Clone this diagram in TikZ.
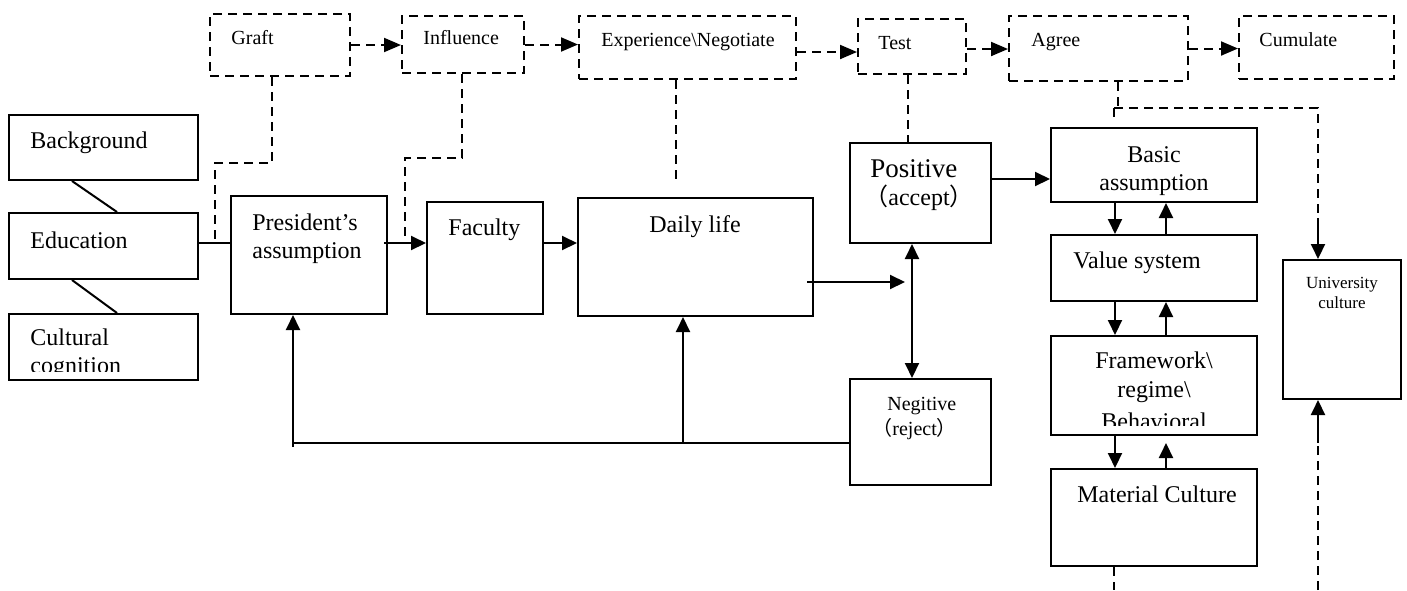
\documentclass[tikz,border=0pt]{standalone}
\usepackage{fontspec}
\setmainfont{Liberation Serif}
\newfontfamily\cjkfont{Noto Sans CJK SC}
\usetikzlibrary{arrows.meta}
\begin{document}
\begin{tikzpicture}[x=0.5pt,y=-0.5pt,
 box/.style={draw, line width=1pt, inner sep=0pt},
 dbox/.style={draw, line width=1pt, inner sep=0pt, dash pattern=on 4.5pt off 3pt},
 ln/.style={line width=1pt},
 dl/.style={line width=1pt, dash pattern=on 4.5pt off 3pt},
 arr/.style={ln, -{Triangle[length=7.5pt,width=7pt]}},
 darr/.style={dl, -{Triangle[length=8.5pt,width=7pt]}},
 txt/.style={inner sep=0pt, font=\fontsize{12}{14}\selectfont},
 btxt/.style={inner sep=0pt, font=\fontsize{13.5}{15}\selectfont},
 stxt/.style={inner sep=0pt, font=\fontsize{10}{12}\selectfont},
 ttxt/.style={inner sep=0pt, font=\fontsize{8.5}{10}\selectfont}]
\useasboundingbox (0,0) rectangle (1407,590);

% solid boxes
\node[box, minimum width=94.5pt, minimum height=32.5pt] (bg) at (103.5,147.5) {};
\node[box, minimum width=94.5pt, minimum height=33pt] (edu) at (103.5,246) {};
\node[box, minimum width=94.5pt, minimum height=33pt] (cog) at (103.5,347) {};
\node[box, minimum width=78pt, minimum height=59pt] (pres) at (309,255) {};
\node[box, minimum width=58pt, minimum height=56pt] (fac) at (485,258) {};
\node[box, minimum width=117.5pt, minimum height=59pt] (daily) at (695.5,257) {};
\node[box, minimum width=70.5pt, minimum height=50pt] (pos) at (920.5,193) {};
\node[box, minimum width=70.5pt, minimum height=53pt] (neg) at (920.5,432) {};
\node[box, minimum width=103pt, minimum height=37pt] (basic) at (1154,165) {};
\node[box, minimum width=103pt, minimum height=33pt] (value) at (1154,268) {};
\node[box, minimum width=103pt, minimum height=49.5pt] (frame) at (1154,385.5) {};
\node[box, minimum width=103pt, minimum height=48.5pt] (mat) at (1154,517.5) {};
\node[box, minimum width=59pt, minimum height=69.5pt] (univ) at (1342,329.5) {};

% dashed boxes
\node[dbox, minimum width=70pt, minimum height=31pt] (graft) at (280,45) {};
\node[dbox, minimum width=61pt, minimum height=28.5pt] (infl) at (463,44.5) {};
\node[dbox, minimum width=108.5pt, minimum height=31.5pt] (exp) at (687.5,47.5) {};
\node[dbox, minimum width=54pt, minimum height=27.5pt] (test) at (912,46.5) {};
\node[dbox, minimum width=89.5pt, minimum height=32.5pt] (agree) at (1098.5,48.5) {};
\node[dbox, minimum width=77.5pt, minimum height=31.5pt] (cum) at (1316.5,47.5) {};

% helper coordinates
\coordinate (yA) at (0,52);
\coordinate (yB) at (0,49);
\coordinate (g1) at (272,163); \coordinate (g2) at (215,163); \coordinate (g3) at (215,243);
\coordinate (i1) at (462,158); \coordinate (i2) at (405,158); \coordinate (i3) at (405,243);
\coordinate (e1) at (676,183);
\coordinate (t1) at (908,0);
\coordinate (a1) at (1118,108); \coordinate (a2) at (1114,108); \coordinate (a3) at (1318,108);
\coordinate (a4) at (1114,123); \coordinate (a5) at (1318,218);
\coordinate (m1) at (1114,590);
\coordinate (u1) at (1318,443); \coordinate (u2) at (1318,590);
\coordinate (c72) at (72,0); \coordinate (c117) at (117,0);
\coordinate (yEP) at (0,243);
\coordinate (d1) at (807,282); \coordinate (d2) at (912,282);
\coordinate (x912) at (912,0);
\coordinate (yPB) at (0,179);
\coordinate (fb) at (293,443); \coordinate (x683) at (683,443);
\coordinate (xd) at (1115,0); \coordinate (xu) at (1166,0);

% top dashed arrows
\draw[darr] (graft.east) -- (infl.west |- graft.east);
\draw[darr] (infl.east) -- (exp.west |- infl.east);
\draw[darr] (exp.east |- yA) -- (test.west |- yA);
\draw[darr] (test.east |- yB) -- (agree.west |- yB);
\draw[darr] (agree.east) -- (cum.west |- agree.east);

% dashed connectors
\draw[dl] (graft.south -| g1) -- (g1) -- (g2) -- (g3);
\draw[dl] (infl.south -| i1) -- (i1) -- (i2) -- (i3);
\draw[dl] (exp.south -| e1) -- (e1);
\draw[dl] (test.south -| t1) -- (pos.north -| t1);
\draw[dl] (agree.south -| a1) -- (a1);
\draw[dl] (a2) -- (a3) -- (a5);
\draw[dl] (a2) -- (a4);
\draw[arr] (a5) -- (univ.north -| a5);
\draw[dl] (mat.south -| m1) -- (m1);
\draw[dl] (u2) -- (u1);
\draw[arr] (u1) -- (univ.south -| u1);

% solid connectors
\draw[ln] (bg.south -| c72) -- (edu.north -| c117);
\draw[ln] (edu.south -| c72) -- (cog.north -| c117);
\draw[ln] (edu.east |- yEP) -- (pres.west |- yEP);
\draw[arr] ([xshift=-2pt]pres.east |- yEP) -- (fac.west |- yEP);
\draw[arr] (fac.east |- yEP) -- (daily.west |- yEP);
\draw[arr, shorten >=3.5pt] (d1) -- (d2);
\draw[ln, {Triangle[length=7.5pt,width=7pt]}-{Triangle[length=7.5pt,width=7pt]}] (pos.south -| x912) -- (neg.north -| x912);
\draw[arr] (pos.east |- yPB) -- (basic.west |- yPB);
\draw[ln] (neg.west |- fb) -- (fb) -- ++(0,4);
\draw[arr] (fb) -- (pres.south -| fb);
\draw[arr] (x683) -- (daily.south -| x683);
\draw[arr] (basic.south -| xd) -- (value.north -| xd);
\draw[arr] (value.north -| xu) -- (basic.south -| xu);
\draw[arr] (value.south -| xd) -- (frame.north -| xd);
\draw[arr] (frame.north -| xu) -- (value.south -| xu);
\draw[arr] (frame.south -| xd) -- (mat.north -| xd);
\draw[arr, shorten >=3.5pt] (mat.north -| xu) -- (frame.south -| xu);

% texts
\node[txt, anchor=base west] (bgT) at (30,148) {Background};
\node[txt, anchor=base west] (eduT) at (30,248) {Education};
\begin{scope}
\clip (9,314) rectangle (198,371);
\node[txt, anchor=base west] (cogT1) at (30,345) {Cultural};
\node[txt, anchor=base west] (cogT2) at (30,373) {cognition};
\end{scope}
\node[stxt, anchor=base west] (graftT) at (231,44) {Graft};
\node[stxt, anchor=base west] (inflT) at (423,44) {Influence};
\node[stxt, anchor=base west] (expT) at (601,46) {Experience\textbackslash Negotiate};
\node[stxt, anchor=base west] (testT) at (878,49) {Test};
\node[stxt, anchor=base west] (agreeT) at (1031,46) {Agree};
\node[stxt, anchor=base west] (cumT) at (1259,46) {Cumulate};
\node[txt, anchor=base west] (presT1) at (252,230) {President’s};
\node[txt, anchor=base west] (presT2) at (252,258) {assumption};
\node[txt, anchor=base west] (facT) at (448,235) {Faculty};
\node[txt, anchor=base] (dailyT) at (695,232) {Daily life};
\node[btxt, anchor=base west] (posT1) at (870,177) {Positive};
\node[txt, anchor=base west] (posT2) at (864,205) {{\cjkfont （}accept{\cjkfont ）}};
\node[stxt, anchor=base west] (negT1) at (887,410) {Negitive};
\node[stxt, anchor=base west] (negT2) at (872,435) {{\cjkfont （}reject{\cjkfont ）}};
\node[txt, anchor=base] (basicT1) at (1154,162) {Basic};
\node[txt, anchor=base] (basicT2) at (1154,190) {assumption};
\node[txt, anchor=base west] (valueT) at (1073,268) {Value system};
\begin{scope}
\clip (1051,336) rectangle (1257,425);
\node[txt, anchor=base] (frT1) at (1154,368) {Framework\textbackslash};
\node[txt, anchor=base] (frT2) at (1154,397) {regime\textbackslash};
\node[txt, anchor=base] (frT3) at (1154,429) {Behavioral};
\end{scope}
\node[txt, anchor=base] (matT) at (1157,502) {Material Culture};
\node[ttxt, anchor=base] (univT1) at (1342,288) {University};
\node[ttxt, anchor=base] (univT2) at (1342,308) {culture};
\end{tikzpicture}
\end{document}
